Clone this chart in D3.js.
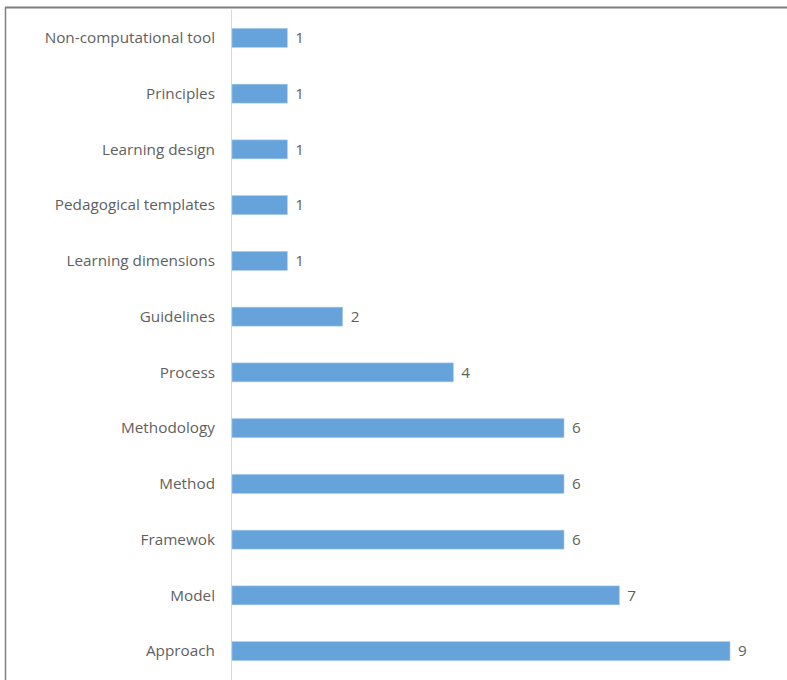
<!DOCTYPE html>
<html>
<head>
<meta charset="utf-8">
<script src="https://cdn.jsdelivr.net/npm/d3@7"></script>
<style>
  body { margin: 0; background: #fff; }
  text { font-family: "Open Sans", Lato, sans-serif; }
</style>
</head>
<body>
<svg width="787" height="680"></svg>
<script>
const categories = [
  "Non-computational tool",
  "Principles",
  "Learning design",
  "Pedagogical templates",
  "Learning dimensions",
  "Guidelines",
  "Process",
  "Methodology",
  "Method",
  "Framewok",
  "Model",
  "Approach"
];
const counts = [1, 1, 1, 1, 1, 2, 4, 6, 6, 6, 7, 9];

const svg = d3.select("svg");
const width = +svg.attr("width");
const height = +svg.attr("height");

// frame around the chart (top and left edges visible)
svg.append("line")
  .attr("x1", 5).attr("x2", width)
  .attr("y1", 7.5).attr("y2", 7.5)
  .attr("stroke", "#7f7f7f").attr("stroke-width", 2);
svg.append("line")
  .attr("x1", 5.5).attr("x2", 5.5)
  .attr("y1", 7).attr("y2", height)
  .attr("stroke", "#7f7f7f").attr("stroke-width", 1.5);

const x0 = 232;
const x = d3.scaleLinear().domain([0, 9]).range([x0, 730]);
const y = d3.scaleBand()
  .domain(categories)
  .range([10, 679])
  .paddingInner(0.66)
  .paddingOuter(0.33);

const rows = categories.map((c, i) => ({ name: c, value: counts[i] }));

// category axis line
svg.append("line")
  .attr("x1", x0 - 0.5).attr("x2", x0 - 0.5)
  .attr("y1", 10).attr("y2", height)
  .attr("stroke", "#d9d9d9").attr("stroke-width", 1);

svg.selectAll("rect.bar")
  .data(rows)
  .enter()
  .append("rect")
  .attr("class", "bar")
  .attr("x", x(0))
  .attr("y", (d) => y(d.name))
  .attr("width", (d) => x(d.value) - x(0))
  .attr("height", y.bandwidth())
  .attr("fill", "#66a3da")
  .attr("stroke", "#a9cbea")
  .attr("stroke-width", 0.6);

svg.selectAll("text.cat")
  .data(rows)
  .enter()
  .append("text")
  .attr("class", "cat")
  .attr("x", 215)
  .attr("y", (d) => y(d.name) + y.bandwidth() / 2)
  .attr("dy", "0.35em")
  .attr("text-anchor", "end")
  .attr("fill", "#5f5f5f")
  .style("font-size", "15.3px")
  .text((d) => d.name);

svg.selectAll("text.val")
  .data(rows)
  .enter()
  .append("text")
  .attr("class", "val")
  .attr("x", (d) => x(d.value) + 8)
  .attr("y", (d) => y(d.name) + y.bandwidth() / 2)
  .attr("dy", "0.35em")
  .attr("fill", "#5f5f5f")
  .style("font-size", "15.3px")
  .text((d) => d.value);
</script>
</body>
</html>
